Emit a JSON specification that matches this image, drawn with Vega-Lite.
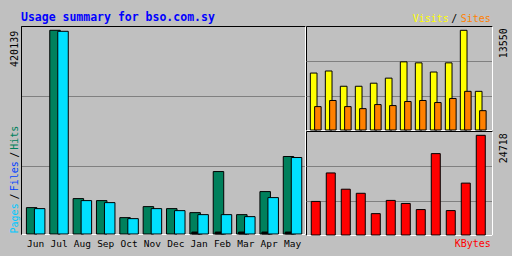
{
  "$schema": "https://vega.github.io/schema/vega-lite/v6.json",
  "background": "#C0C0C0",
  "padding": {"left": 8, "top": 10, "right": 4.5, "bottom": 8},
  "data": {
    "values": [
      {"month": "Jun", "hits": 54420, "pages": 52350, "files": 0, "visits": 7740, "sites": 3180, "kbytes": 8324},
      {"month": "Jul", "hits": 420139, "pages": 418070, "files": 0, "visits": 8020, "sites": 4010, "kbytes": 15386},
      {"month": "Aug", "hits": 73000, "pages": 68875, "files": 0, "visits": 5945, "sites": 3180, "kbytes": 11351},
      {"month": "Sep", "hits": 68870, "pages": 64740, "files": 0, "visits": 5945, "sites": 2904, "kbytes": 10342},
      {"month": "Oct", "hits": 33750, "pages": 31680, "files": 0, "visits": 6360, "sites": 3457, "kbytes": 5297},
      {"month": "Nov", "hits": 56480, "pages": 52350, "files": 0, "visits": 7050, "sites": 3318, "kbytes": 8576},
      {"month": "Dec", "hits": 52350, "pages": 48210, "files": 0, "visits": 9264, "sites": 3871, "kbytes": 7819},
      {"month": "Jan", "hits": 44080, "pages": 39950, "files": 4000, "visits": 9125, "sites": 4010, "kbytes": 6306},
      {"month": "Feb", "hits": 128800, "pages": 39950, "files": 4000, "visits": 7880, "sites": 3733, "kbytes": 20178},
      {"month": "Mar", "hits": 39950, "pages": 35815, "files": 4000, "visits": 9125, "sites": 4286, "kbytes": 6053},
      {"month": "Apr", "hits": 87470, "pages": 75070, "files": 4000, "visits": 13550, "sites": 5254, "kbytes": 12863},
      {"month": "May", "hits": 159780, "pages": 157720, "files": 4000, "visits": 5254, "sites": 2627, "kbytes": 24718}
    ]
  },
  "config": {
    "view": {"stroke": "#000000", "fill": "#C0C0C0", "strokeWidth": 1},
    "bar": {"stroke": "#000000", "strokeWidth": 1}
  },
  "spacing": 1,
  "bounds": "flush",
  "hconcat": [
    {
      "width": 284,
      "height": 208,
      "layer": [
        {
          "mark": {"type": "bar", "width": 10.5, "xOffset": -4, "fill": "#00805C"},
          "encoding": {
            "x": {
              "field": "month", "type": "ordinal", "sort": null,
              "scale": {"paddingInner": 0, "paddingOuter": 0.081, "align": 0.79},
              "axis": {
                "orient": "bottom", "title": null, "labelAngle": 0,
                "labelFont": "DejaVu Sans Mono", "labelFontSize": 9.5, "labelColor": "#000000",
                "labelPadding": 4, "labelBaseline": "top", "ticks": false,
                "domainColor": "#FFFFFF", "grid": false
              }
            },
            "y": {
              "field": "hits", "type": "quantitative",
              "scale": {"domain": [0, 429000], "nice": false},
              "axis": {
                "orient": "left", "title": null,
                "values": [33206, 78375, 120244, 164381, 199650, 420139],
                "labelExpr": "datum.value == 420139 ? '420139' : datum.value == 33206 ? 'Pages' : datum.value == 120244 ? 'Files' : datum.value == 199650 ? 'Hits' : '/'",
                "labelAngle": -90,
                "labelAlign": {"condition": {"test": "datum.value == 420139", "value": "right"}, "value": "center"},
                "labelBaseline": "middle",
                "labelPadding": 7,
                "labelColor": {"condition": [
                  {"test": "datum.value == 33206", "value": "#00C8FF"},
                  {"test": "datum.value == 120244", "value": "#0040FF"},
                  {"test": "datum.value == 199650", "value": "#00805C"}
                ], "value": "#000000"},
                "labelFont": "DejaVu Sans Mono", "labelFontSize": 10,
                "labelOverlap": false, "labelFlush": false, "labelBound": false,
                "ticks": false, "grid": false, "domainColor": "#000000"
              }
            }
          }
        },
        {
          "transform": [{"filter": "datum.files > 0"}],
          "mark": {"type": "bar", "width": 10.5, "xOffset": -2, "fill": "#000000"},
          "encoding": {
            "x": {
              "field": "month", "type": "ordinal", "sort": null,
              "scale": {"paddingInner": 0, "paddingOuter": 0.081, "align": 0.79},
              "axis": null
            },
            "y": {"field": "files", "type": "quantitative", "axis": null}
          }
        },
        {
          "mark": {"type": "bar", "width": 10.5, "xOffset": 4, "fill": "#00E0FF"},
          "encoding": {
            "x": {
              "field": "month", "type": "ordinal", "sort": null,
              "scale": {"paddingInner": 0, "paddingOuter": 0.081, "align": 0.79},
              "axis": {
                "orient": "top", "title": null, "values": ["Jun"],
                "labelExpr": "'Usage summary for bso.com.sy'",
                "labelAngle": 0, "labelAlign": "left", "labelOffset": -14.7,
                "labelBaseline": "alphabetic", "labelPadding": 6, "labelLimit": 0,
                "labelFont": "DejaVu Sans Mono", "labelFontSize": 11.5, "labelFontWeight": "bold",
                "labelColor": "#0000FF", "domain": false, "ticks": false, "grid": false,
                "labelOverlap": false, "labelBound": false, "labelFlush": false
              }
            },
            "y": {
              "field": "pages", "type": "quantitative",
              "axis": {
                "orient": "right", "title": null, "values": [139631, 284006],
                "grid": true, "gridColor": "#808080", "gridWidth": 1,
                "labels": false, "ticks": false, "domainColor": "#FFFFFF"
              }
            }
          }
        }
      ],
      "resolve": {"axis": {"x": "independent", "y": "independent"}}
    },
    {
      "spacing": 1,
      "bounds": "flush",
      "vconcat": [
        {
          "width": 186,
          "height": 104,
          "layer": [
            {
              "mark": {"type": "bar", "width": 6.7, "xOffset": -2.1, "fill": "#FFFF00"},
              "encoding": {
                "x": {
                  "field": "month", "type": "ordinal", "sort": null,
                  "scale": {"paddingInner": 0, "paddingOuter": 0.2, "align": 0.38},
                  "axis": {"orient": "bottom", "title": null, "labels": false, "ticks": false, "domainColor": "#FFFFFF", "grid": false}
                },
                "y": {
                  "field": "visits", "type": "quantitative",
                  "scale": {"domain": [0, 14134], "nice": false},
                  "axis": {
                    "orient": "right", "title": null, "values": [4580, 9337, 13550],
                    "labelExpr": "datum.value == 13550 ? '13550' : ''",
                    "labelAngle": -90, "labelAlign": "right", "labelBaseline": "middle",
                    "labelPadding": 11, "labelOffset": -2.6,
                    "labelFont": "DejaVu Sans Mono", "labelFontSize": 10, "labelColor": "#000000",
                    "labelOverlap": false, "labelFlush": false, "labelBound": false,
                    "ticks": false, "domainColor": "#FFFFFF",
                    "grid": true, "gridColor": "#808080",
                    "gridOpacity": {"condition": {"test": "datum.value == 13550", "value": 0}, "value": 1}
                  }
                }
              }
            },
            {
              "mark": {"type": "bar", "width": 6.5, "xOffset": 2.1, "fill": "#FF8000"},
              "encoding": {
                "x": {
                  "field": "month", "type": "ordinal", "sort": null,
                  "scale": {"paddingInner": 0, "paddingOuter": 0.2, "align": 0.38},
                  "axis": {
                    "orient": "top", "title": null, "values": ["Feb", "Mar", "May"],
                    "labelExpr": "datum.value == 'Feb' ? 'Visits' : datum.value == 'Mar' ? '/' : 'Sites'",
                    "labelAngle": 0, "labelAlign": "center",
                    "labelOffset": {"condition": {"test": "datum.value == 'Mar'", "value": 3.5}, "value": -5},
                    "labelColor": {"condition": [
                      {"test": "datum.value == 'Feb'", "value": "#FFFF00"},
                      {"test": "datum.value == 'May'", "value": "#FF8000"}
                    ], "value": "#000000"},
                    "labelBaseline": "alphabetic", "labelPadding": 4.3,
                    "labelFont": "DejaVu Sans Mono", "labelFontSize": 10,
                    "labelOverlap": false, "labelBound": false, "labelFlush": false,
                    "domain": false, "ticks": false, "grid": false
                  }
                },
                "y": {"field": "sites", "type": "quantitative", "axis": null}
              }
            }
          ],
          "resolve": {"axis": {"x": "independent", "y": "independent"}}
        },
        {
          "width": 186,
          "height": 104,
          "mark": {"type": "bar", "width": 9, "fill": "#FF0000"},
          "encoding": {
            "x": {
              "field": "month", "type": "ordinal", "sort": null,
              "scale": {"paddingInner": 0, "paddingOuter": 0.2, "align": 0.38},
              "axis": {
                "orient": "bottom", "title": null, "values": ["May"],
                "labelExpr": "'KBytes'", "labelAngle": 0, "labelAlign": "right", "labelOffset": 10,
                "labelColor": "#FF0000", "labelPadding": 3, "labelBaseline": "top",
                "labelFont": "DejaVu Sans Mono", "labelFontSize": 10,
                "labelOverlap": false, "labelBound": false, "labelFlush": false,
                "ticks": false, "domainColor": "#FFFFFF", "grid": false
              }
            },
            "y": {
              "field": "kbytes", "type": "quantitative",
              "scale": {"domain": [0, 25784], "nice": false},
              "axis": {
                "orient": "right", "title": null, "values": [8355, 17031, 24718],
                "labelExpr": "datum.value == 24718 ? '24718' : ''",
                "labelAngle": -90, "labelAlign": "right", "labelBaseline": "middle",
                "labelPadding": 11, "labelOffset": -2.6,
                "labelFont": "DejaVu Sans Mono", "labelFontSize": 10, "labelColor": "#000000",
                "labelOverlap": false, "labelFlush": false, "labelBound": false,
                "ticks": false, "domainColor": "#FFFFFF",
                "grid": true, "gridColor": "#808080",
                "gridOpacity": {"condition": {"test": "datum.value == 24718", "value": 0}, "value": 1}
              }
            }
          }
        }
      ]
    }
  ]
}
